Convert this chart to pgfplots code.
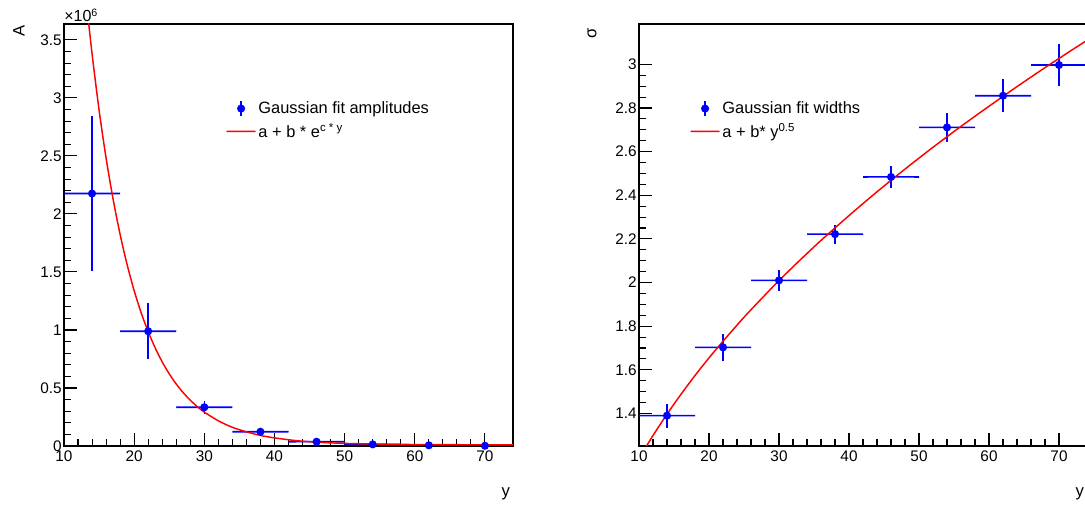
\documentclass[border=0pt]{standalone}
\usepackage{fontspec}
\setmainfont{Liberation Sans}
\usepackage{pgfplots}
\pgfplotsset{compat=1.18}
\definecolor{rootblue}{RGB}{0,0,255}
\definecolor{rootred}{RGB}{255,0,0}
\pgfplotsset{
  rootstyle/.style={
    scale only axis,
    height=316.5pt,
    axis line style={line width=0.9pt},
    xtick pos=bottom, ytick pos=left,
    tick align=inside,
    major tick length=9.75pt, minor tick length=5pt,
    every tick/.style={black, line width=0.8pt},
    every minor tick/.style={black, line width=0.8pt},
    xmin=10, xmax=74,
    xtick={10,20,...,70}, minor x tick num=4,
    ticklabel style={font=\fontsize{11.5}{13}\selectfont},
    yticklabel style={inner sep=1.5pt},
    /pgf/number format/assume math mode=true,
    scaled ticks=false,
    xlabel style={at={(rel axis cs:1,0)}, anchor=base east, yshift=-38pt, xshift=-2pt, inner sep=0pt, font=\fontsize{12.5}{14}\selectfont},
    ylabel style={anchor=south east, inner sep=0pt, font=\fontsize{12.5}{14}\selectfont},
    legend style={draw=none, fill=none, font=\fontsize{12.3}{14}\selectfont, anchor=north west, inner sep=0pt, row sep=2pt},
    legend cell align=left,
  },
  databar/.style={
    color=rootblue, line width=1.2pt, mark=*, mark size=2.4pt, only marks,
    mark options={draw=rootblue, fill=rootblue, solid},
    error bars/y dir=both, error bars/y explicit,
    error bars/error mark=none,
    error bars/error bar style={color=rootblue, line width=1.2pt, solid},
  },
  xbars/.style={color=rootblue, line width=1.2pt, no marks, forget plot, unbounded coords=jump},
  fitline/.style={color=rootred, line width=1.1pt, smooth, no marks},
  dataleg/.style={legend image code/.code={
      \draw[color=rootblue, line width=1.2pt] (10.5pt,-5.5pt) -- (10.5pt,5.5pt);
      \fill[color=rootblue] (10.5pt,0pt) circle (2.4pt);}},
  lineleg/.style={legend image code/.code={
      \draw[color=rootred, line width=1.1pt, line cap=round] (0pt,0pt) -- (10.5pt,0.01pt) -- (21pt,0pt);}},
}
\begin{document}
\begin{tikzpicture}
\useasboundingbox (0,0) rectangle (813.75pt,-378.75pt);
% ---------------- left panel ----------------
\begin{axis}[rootstyle,
  at={(48pt,-334.5pt)}, anchor=south west,
  width=336.75pt,
  ymin=0, ymax=3.637,
  ytick={0,0.5,...,3.5}, minor y tick num=4,
  xlabel={y}, ylabel={A},
  ylabel style={at={(rel axis cs:-0.087,0.998)}},
  legend style={at={(0.361,0.823)}},
]
% horizontal (x) error bars: bin half-width 4
\addplot[xbars] coordinates {
  (10,2.176)(14,2.1762)(18,2.176) (14,nan)
  (18,0.989)(22,0.9892)(26,0.989) (22,nan)
  (26,0.334)(30,0.3342)(34,0.334) (30,nan)
  (34,0.123)(38,0.1232)(42,0.123) (38,nan)
  (42,0.037)(46,0.0372)(50,0.037) (46,nan)
  (50,0.014)(54,0.0142)(58,0.014) (54,nan)
  (58,0.006)(62,0.0062)(66,0.006) (62,nan)
  (66,0.002)(70,0.0022)(74,0.002)
};
\addplot[dataleg, databar] coordinates {
  (14,2.176) +- (0,0.67)
  (22,0.989) +- (0,0.243)
  (30,0.334) +- (0,0.055)
  (38,0.123) +- (0,0.012)
  (46,0.037) +- (0,0.005)
  (54,0.014) +- (0,0.003)
  (62,0.006) +- (0,0.002)
  (70,0.002) +- (0,0.001)
};
\addlegendentry{Gaussian fit amplitudes}
\addplot[fitline, lineleg] coordinates {
  (13.3,3.765)(14,3.380)(15,2.895)(16,2.481)(17,2.127)(18,1.823)(19,1.562)(20,1.339)
  (21,1.148)(22,0.985)(23,0.845)(24,0.725)(25,0.622)(26,0.534)(27,0.459)(28,0.395)
  (29,0.339)(30,0.292)(32,0.217)(34,0.161)(36,0.122)(38,0.091)(40,0.070)(43,0.047)
  (46,0.033)(50,0.0225)(55,0.016)(60,0.0127)(66,0.011)(74,0.0103)
};
\addlegendentry{a + b * e\textsuperscript{c * y}}
\end{axis}
\node[anchor=base west, inner sep=0pt, font=\fontsize{12}{14}\selectfont] at (48pt,-16.5pt) {×10\textsuperscript{6}};
% ---------------- right panel ----------------
\begin{axis}[rootstyle,
  at={(479.25pt,-334.5pt)}, anchor=south west,
  width=336pt,
  ymin=1.251, ymax=3.185,
  ytick={1.4,1.6,...,3.01}, minor y tick num=3,
  xlabel={y}, ylabel={σ},
  ylabel style={at={(rel axis cs:-0.094,0.99)}},
  legend style={at={(0.114,0.823)}},
]
\addplot[xbars] coordinates {
  (10,1.390)(14,1.3901)(18,1.390) (14,nan)
  (18,1.703)(22,1.7031)(26,1.703) (22,nan)
  (26,2.010)(30,2.0101)(34,2.010) (30,nan)
  (34,2.222)(38,2.2221)(42,2.222) (38,nan)
  (42,2.484)(46,2.4841)(50,2.484) (46,nan)
  (50,2.711)(54,2.7111)(58,2.711) (54,nan)
  (58,2.856)(62,2.8561)(66,2.856) (62,nan)
  (66,2.997)(70,2.9971)(74,2.997)
};
\addplot[dataleg, databar] coordinates {
  (14,1.39) +- (0,0.055)
  (22,1.703) +- (0,0.061)
  (30,2.010) +- (0,0.047)
  (38,2.222) +- (0,0.044)
  (46,2.484) +- (0,0.049)
  (54,2.711) +- (0,0.065)
  (62,2.856) +- (0,0.075)
  (70,2.997) +- (0,0.095)
};
\addlegendentry{Gaussian fit widths}
\addplot[fitline, lineleg] coordinates {
  (10.8,1.236)(11,1.247)(12,1.299)(14,1.397)(16,1.488)(18,1.574)(20,1.655)(22,1.731)
  (25,1.841)(28,1.943)(30,2.009)(33,2.103)(36,2.193)(40,2.307)(44,2.416)(48,2.520)
  (52,2.620)(56,2.716)(60,2.808)(64,2.898)(68,2.985)(70,3.027)(72,3.069)(74,3.110)
};
\addlegendentry{a + b* y\textsuperscript{0.5}}
\end{axis}
\end{tikzpicture}
\end{document}
